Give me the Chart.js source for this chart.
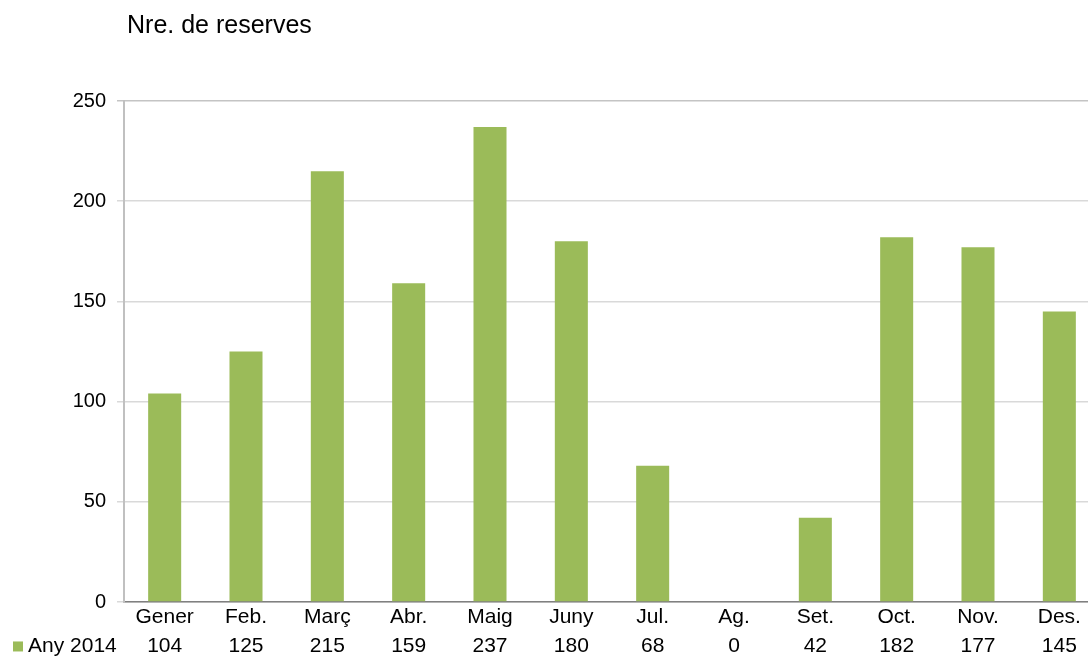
<!DOCTYPE html>
<html>
<head>
<meta charset="utf-8">
<script src="https://cdn.jsdelivr.net/npm/chart.js@4"></script>
<style>
  html, body { margin: 0; padding: 0; background: #fff; overflow: hidden; }
  #wrap { width: 1130px; height: 657px; position: relative; }
</style>
</head>
<body>
<div id="wrap"><canvas id="reserves"></canvas></div>
<script>
const months = ['Gener', 'Feb.', 'Març', 'Abr.', 'Maig', 'Juny', 'Jul.', 'Ag.', 'Set.', 'Oct.', 'Nov.', 'Des.'];
const bookings2014 = [104, 125, 215, 159, 237, 180, 68, 0, 42, 182, 177, 145];
const seriesName = 'Any 2014';
const yTicks = [0, 50, 100, 150, 200, 250];

const FONT = '"Liberation Sans", Arial, sans-serif';
const GREEN = '#9BBB59';

// title above the plot and the legend key in front of the data-table row
const tablePlugin = {
    id: 'tableLegend',
    afterDraw(chart) {
        const ctx = chart.ctx;
        const xs = chart.scales.x;
        const lh = xs.options.ticks.font.lineHeight * xs.options.ticks.font.size;
        const rowY = xs.top + xs.options.ticks.padding + lh * 1.5;

        ctx.save();
        ctx.fillStyle = '#000';
        ctx.textBaseline = 'middle';
        ctx.textAlign = 'left';
        ctx.font = '25px ' + FONT;
        ctx.fillText('Nre. de reserves', 127, 26);

        ctx.fillStyle = chart.data.datasets[0].backgroundColor;
        ctx.fillRect(13, rowY - 5, 10, 10);
        ctx.fillStyle = '#000';
        ctx.font = '21px ' + FONT;
        ctx.fillText(chart.data.datasets[0].label, 28, rowY);
        ctx.restore();
    }
};

new Chart(document.getElementById('reserves'), {
    type: 'bar',
    data: {
        labels: months,
        datasets: [{
            label: seriesName,
            data: bookings2014,
            backgroundColor: GREEN,
            borderWidth: 0,
            barPercentage: 0.406,
            categoryPercentage: 1
        }]
    },
    options: {
        responsive: true,
        maintainAspectRatio: false,
        animation: false,
        layout: { padding: { top: 101, right: 30, left: 0, bottom: 0 } },
        plugins: {
            legend: { display: false },
            title: { display: false },
            tooltip: { enabled: false }
        },
        scales: {
            x: {
                grid: { display: false, drawTicks: false },
                border: { display: true, color: '#808080', width: 1.5 },
                ticks: {
                    padding: 1,
                    color: '#000',
                    font: { family: FONT, size: 21, lineHeight: 1.38 },
                    maxRotation: 0,
                    autoSkip: false,
                    callback: (v, i) => [months[i], String(bookings2014[i])]
                },
                afterFit(scale) { scale.height = 55; }
            },
            y: {
                min: 0,
                max: 250,
                afterBuildTicks(scale) { scale.ticks = yTicks.map(v => ({ value: v })); },
                grid: {
                    color: ctx => ctx.tick && ctx.tick.value === 250 ? '#c4c4c4' : '#d9d9d9',
                    lineWidth: 1.5,
                    tickLength: 7,
                    drawTicks: true
                },
                border: { display: true, color: '#c0c0c0', width: 2 },
                ticks: {
                    padding: 11,
                    color: '#000',
                    font: { family: FONT, size: 20 }
                },
                afterFit(scale) { scale.width = 124; }
            }
        }
    },
    plugins: [tablePlugin]
});
</script>
</body>
</html>
